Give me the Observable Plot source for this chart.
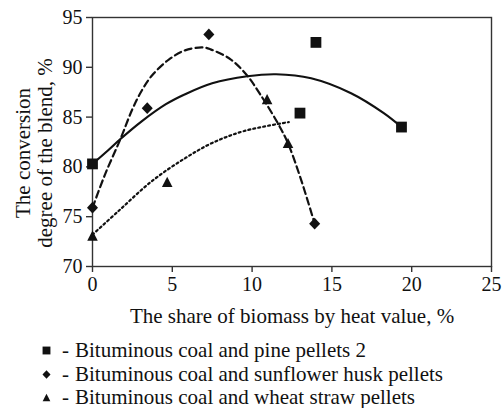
<!DOCTYPE html>
<html>
<head>
<meta charset="utf-8">
<script src="https://cdn.jsdelivr.net/npm/d3@7"></script>
<script src="https://cdn.jsdelivr.net/npm/@observablehq/plot@0.6"></script>
<style>
  html, body { margin: 0; padding: 0; background: #fff; }
  body { width: 503px; height: 408px; overflow: hidden; font-family: "Liberation Serif", "Times New Roman", serif; color: #111; }
  #legend { padding-top: 9px; padding-left: 42px; font-size: 21px; line-height: 23.5px; }
  #legend .row { display: flex; align-items: center; height: 23.5px; white-space: nowrap; }
  #legend svg { width: 9px; height: 9px; margin-right: 11px; }
  #legend .dash { margin-right: 6px; }
</style>
</head>
<body>
<div id="chart"></div>
<div id="legend"></div>
<script>
// ---- data ----
const seriesNames = [
  "Bituminous coal and pine pellets 2",
  "Bituminous coal and sunflower husk pellets",
  "Bituminous coal and wheat straw pellets"
];
const pineX = [0, 13.0, 14.0, 19.36];
const pineY = [80.3, 85.4, 92.5, 84.0];
const sunX = [0, 3.43, 7.29, 13.92];
const sunY = [75.9, 85.9, 93.3, 74.3];
const wheatX = [0, 4.68, 10.94, 12.25];
const wheatY = [73.1, 78.5, 86.8, 82.4];

// trend lines
const pineTrendX = [0, 1, 1.75, 3.1, 4.6, 5.8, 7.5, 9.7, 11.5, 13.7, 16.2, 18.25, 19.36];
const pineTrendY = [80.3, 81.7, 82.8, 84.6, 86.3, 87.3, 88.4, 89.1, 89.3, 88.9, 87.4, 85.4, 84.0];
const sunTrendX = [0, 0.8, 1.75, 2.5, 3.1, 3.74, 4.8, 5.8, 6.9, 7.4, 8.65, 9.7, 10.5, 11.57, 12.24, 13.03, 13.92];
const sunTrendY = [75.9, 79.3, 82.8, 85.8, 87.7, 89.2, 90.8, 91.7, 92.0, 91.8, 90.8, 89.15, 87.3, 84.5, 82.4, 78.9, 74.3];
const wheatTrendX = [0, 1.65, 3.74, 5.83, 7.5, 9.5, 12.3];
const wheatTrendY = [73.2, 75.6, 78.6, 80.9, 82.4, 83.6, 84.5];

const xTicks = [0, 5, 10, 15, 20, 25];
const yTicks = [70, 75, 80, 85, 90, 95];
const xLabel = "The share of biomass by heat value, %";
const yLabel = "The conversion\ndegree of the blend, %";

// ---- build tables ----
const zip = (xs, ys, s) => xs.map((x, i) => ({x, y: ys[i], s}));
const points = [
  ...zip(pineX, pineY, 0),
  ...zip(sunX, sunY, 1),
  ...zip(wheatX, wheatY, 2)
];
const pineTrend = zip(pineTrendX, pineTrendY, 0);
const sunTrend = zip(sunTrendX, sunTrendY, 1);
const wheatTrend = zip(wheatTrendX, wheatTrendY, 2);

// custom symbols
const rOf = size => Math.sqrt(size / Math.PI);
const symSquare = {draw(ctx, size) { const r = rOf(size); const h = r * 0.9; ctx.rect(-h, -h, 2 * h, 2 * h); }};
const symDiamond = {draw(ctx, size) { const r = rOf(size); const w = r * 0.92, hh = r * 0.98; ctx.moveTo(0, -hh); ctx.lineTo(w, 0); ctx.lineTo(0, hh); ctx.lineTo(-w, 0); ctx.closePath(); }};
const symTriangle = {draw(ctx, size) { const r = rOf(size); const w = r * 0.88, t = r * 0.85; ctx.moveTo(0, -t); ctx.lineTo(w, t); ctx.lineTo(-w, t); ctx.closePath(); }};
const symbols = [symSquare, symDiamond, symTriangle];

const ink = "#111";
const axisInk = "#333";

const chart = Plot.plot({
  width: 503,
  height: 330,
  marginLeft: 92,
  marginRight: 12,
  marginTop: 17,
  marginBottom: 64,
  style: {fontFamily: "'Liberation Serif', 'Times New Roman', serif", background: "#fff", color: ink},
  x: {domain: [0, 25]},
  y: {domain: [70, 95]},
  marks: [
    Plot.frame({stroke: axisInk, strokeWidth: 1.4}),
    Plot.axisX({ticks: xTicks, tickSize: 6, tickPadding: 4, fontSize: 20, stroke: axisInk, strokeWidth: 1.4, fill: ink, label: null, tickFormat: d => String(d)}),
    Plot.axisY({ticks: yTicks, tickSize: 6, tickPadding: 4, fontSize: 20, stroke: axisInk, strokeWidth: 1.4, fill: ink, label: null, tickFormat: d => String(d)}),
    Plot.text([xLabel], {frameAnchor: "bottom", dy: 50, fontSize: 21, fill: ink, lineAnchor: "middle"}),
    Plot.text([yLabel], {frameAnchor: "left", textAnchor: "middle", dx: -59, dy: 11, rotate: -90, fontSize: 21, fill: ink, lineHeight: 1.05, lineAnchor: "middle"}),
    Plot.line(pineTrend, {x: "x", y: "y", curve: "catmull-rom", stroke: ink, strokeWidth: 2.2}),
    Plot.line(sunTrend, {x: "x", y: "y", curve: "catmull-rom", stroke: ink, strokeWidth: 2.2, strokeDasharray: "7,4"}),
    Plot.line(wheatTrend, {x: "x", y: "y", curve: "catmull-rom", stroke: ink, strokeWidth: 2.2, strokeDasharray: "2,3"}),
    Plot.dot(points, {x: "x", y: "y", r: 6, symbol: d => symbols[d.s], fill: ink, stroke: "none"})
  ]
});
document.getElementById("chart").appendChild(chart);

// ---- legend ----
const legend = d3.select("#legend");
seriesNames.forEach((name, i) => {
  const row = legend.append("div").attr("class", "row");
  const svg = row.append("svg").attr("viewBox", "-7 -7 14 14");
  svg.append("path").attr("d", d3.symbol(symbols[i], Math.PI * 6.8 * 6.8)()).attr("fill", ink);
  row.append("span").attr("class", "dash").text("-");
  row.append("span").text(name);
});
</script>
</body>
</html>
